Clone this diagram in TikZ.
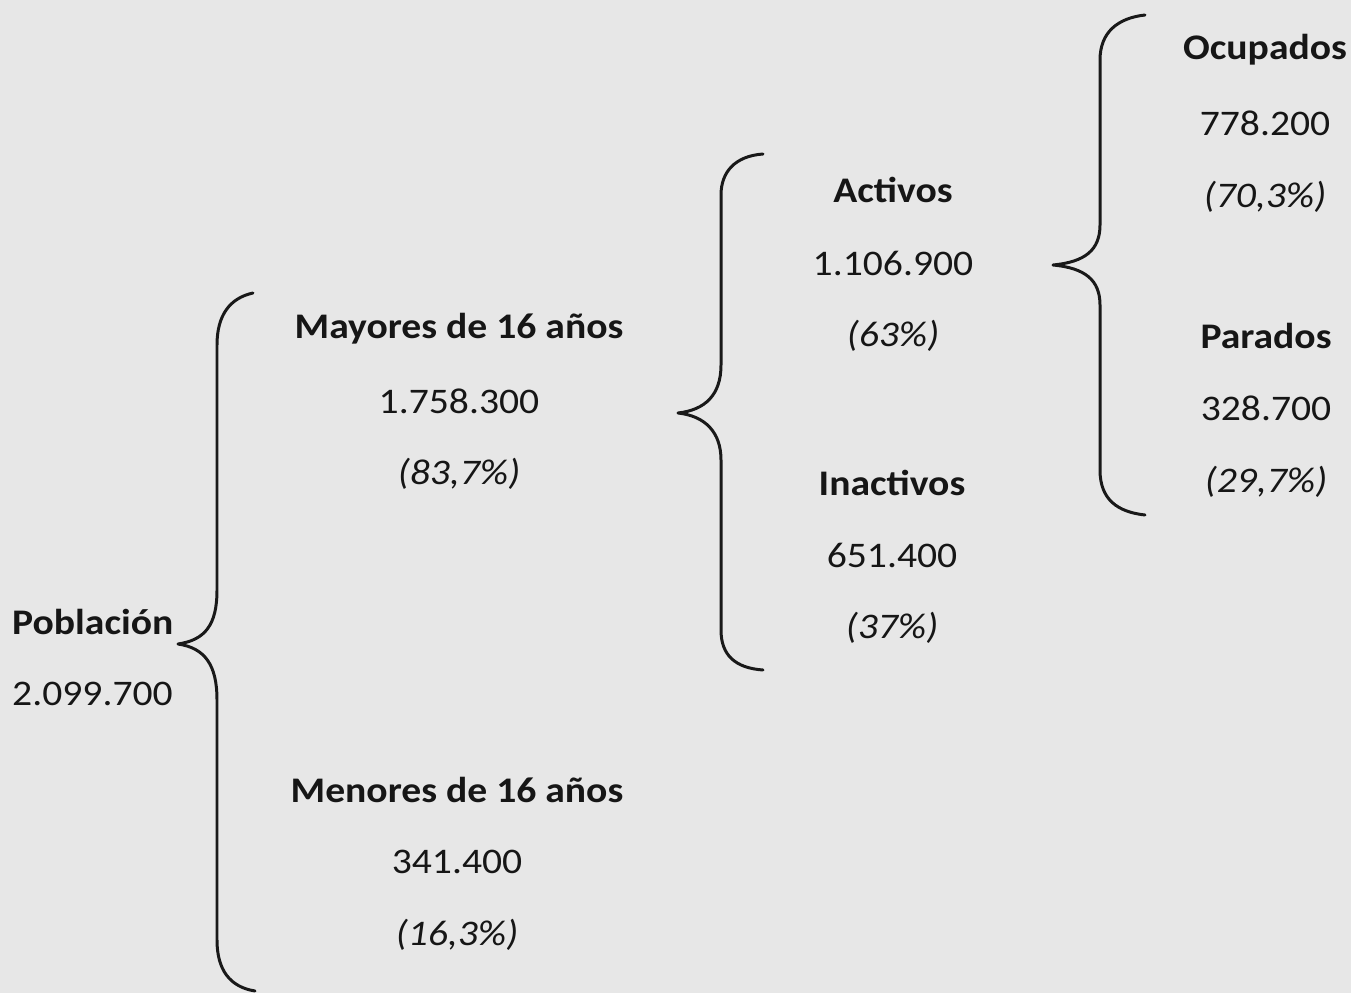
\documentclass[tikz,border=0pt]{standalone}
\usepackage{fontspec}
\setmainfont{Carlito}[FakeStretch=1.1]
\usepackage{xcolor}
\definecolor{fondo}{HTML}{E7E7E7}
\definecolor{tinta}{HTML}{161616}

\begin{document}
\begin{tikzpicture}[x = 0.02cm, y = -0.02cm, font = \fontsize{20.5}{24}\selectfont, text = tinta,
  titulo/.style = {font = \fontsize{20.5}{24}\selectfont\bfseries},
  cifra/.style = {},
  pct/.style = {font = \fontsize{20.5}{24}\selectfont\itshape},
  llave/.style = {draw = black!90, line width = 1.7pt, line cap = round, line join = round}]
  % background
  \fill[fondo] (0,0) rectangle (1351,993);
  \useasboundingbox (0,0) rectangle (1351,993);

  %%% level 0 %%%
  \node[titulo, anchor = west] (pob) at (6,622) {Población};
  \node[cifra, anchor = west] (pobn) at (6,694) {2.099.700};

  %%% level 1 %%%
  % mayores
  \node[titulo] (may) at (459,329) {Mayores de 16 años};
  \node[cifra] (mayn) at (459,401) {1.758.300};
  \node[pct] (mayp) at (459,474) {(83,7\%)};
  % menores
  \node[titulo] (men) at (457,790) {Menores de 16 años};
  \node[cifra] (menn) at (457,862) {341.400};
  \node[pct] (menp) at (457,935) {(16,3\%)};

  %%% level 2 %%%
  % activos
  \node[titulo] (act) at (893,190) {Activos};
  \node[cifra] (actn) at (893,263) {1.106.900};
  \node[pct] (actp) at (893,336) {(63\%)};
  % inactivos
  \node[titulo] (ina) at (892,483) {Inactivos};
  \node[cifra] (inan) at (892,555) {651.400};
  \node[pct] (inap) at (892,628) {(37\%)};

  %%% level 3 %%%
  % ocupados
  \node[titulo] (ocu) at (1265,50) {Ocupados};
  \node[cifra] (ocun) at (1265,123) {778.200};
  \node[pct] (ocup) at (1265,197) {(70,3\%)};
  % parados
  \node[titulo] (par) at (1266,336) {Parados};
  \node[cifra] (parn) at (1266,408) {328.700};
  \node[pct] (parp) at (1266,482) {(29,7\%)};

  %%% braces %%%
  % poblacion
  \draw[llave] (253,293) .. controls (230,298) and (217,315) .. (217,345) -- (217,590)
    .. controls (217,625) and (205,640) .. (178,644)
    .. controls (205,648) and (217,665) .. (217,700) -- (217,940)
    .. controls (217,970) and (230,987) .. (255,991);
  % mayores
  \draw[llave] (763,154) .. controls (735,156) and (721,172) .. (721,195) -- (721,365)
    .. controls (721,395) and (705,410) .. (678,413)
    .. controls (705,416) and (721,432) .. (721,460) -- (721,630)
    .. controls (721,655) and (735,668) .. (763,670);
  % activos
  \draw[llave] (1145,15) .. controls (1118,18) and (1100,32) .. (1100,60) -- (1100,225)
    .. controls (1100,250) and (1085,262) .. (1053,265)
    .. controls (1085,268) and (1100,280) .. (1100,305) -- (1100,470)
    .. controls (1100,500) and (1118,512) .. (1145,515);
\end{tikzpicture}
\end{document}
